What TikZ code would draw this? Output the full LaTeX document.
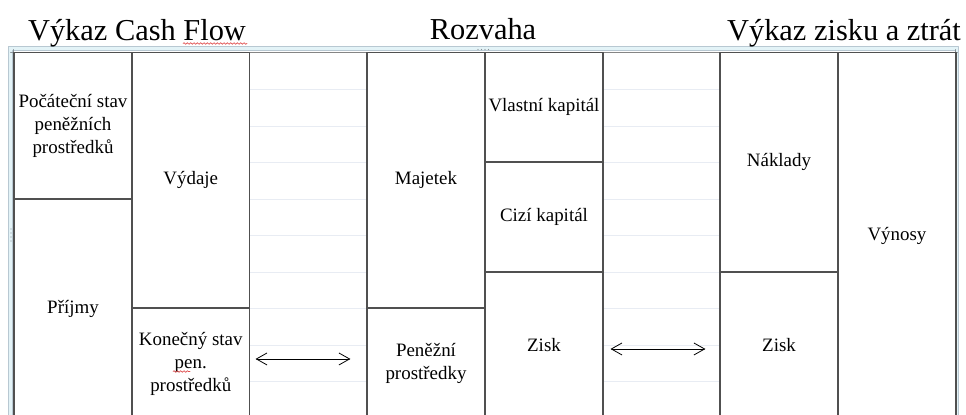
\documentclass[tikz,border=0pt]{standalone}
\usepackage{fontspec}
\setmainfont{Liberation Serif}
\usetikzlibrary{arrows.meta,decorations.pathmorphing}
\definecolor{gridgray}{HTML}{505050}
\definecolor{faintgray}{HTML}{E8ECF3}
\definecolor{framecyan}{HTML}{E3F3F7}
\definecolor{frameline}{HTML}{B8C8D2}
\definecolor{handlegray}{HTML}{8A9298}
\definecolor{spellred}{HTML}{E05050}
\begin{document}
\begin{tikzpicture}[x=0.75pt,y=-0.75pt,line cap=round,line join=round,
  cell/.style n args={2}{draw=gridgray,line width=0.9pt,inner sep=0pt,align=center,
    minimum width={#1*0.75pt},minimum height={#2*0.75pt},
    font=\fontsize{14.2}{17.3}\selectfont},
  title/.style={anchor=base,inner sep=0pt,font=\fontsize{22.8}{26}\selectfont},
  link/.style={{Straight Barb[length=8pt,width=9pt]}-{Straight Barb[length=8pt,width=9pt]},line width=0.6pt},
  spell/.style={spellred,line width=0.5pt,decorate,decoration={snake,amplitude=0.6pt,segment length=2.5pt}}]
  \useasboundingbox (0,0) rectangle (966,414);
  \clip (0,0) rectangle (966,414);
  % frame of the table
  \filldraw[fill=framecyan,draw=frameline,line width=0.6pt] (8.5,46.5) rectangle (958.5,430);
  \filldraw[fill=white,draw=frameline,line width=0.6pt] (12.5,50.5) rectangle (955,430);
  \foreach \x in {478,481.5,485,488.5} \fill[handlegray] (\x,49.5) circle (0.7);
  \foreach \y in {229,233,237,241} {
    \fill[handlegray] (11,\y) circle (0.7);
    \fill[handlegray] (956.5,\y) circle (0.7);
  }
  \draw[handlegray,line width=0.4pt] (10.5,52) -- (15.5,52) (13,49.5) -- (13,54.5);
  \draw[handlegray,line width=0.4pt] (952.5,52) -- (957.5,52) (955,49.5) -- (955,54.5);
  % faint gridlines in the empty columns
  \foreach \y in {89,126,162,199,235,272,308,345,381} {
    \draw[faintgray,line width=0.75pt] (249.5,\y) -- (367,\y);
    \draw[faintgray,line width=0.75pt] (603,\y) -- (720,\y);
  }
  \draw[gridgray!70,line width=0.9pt] (14,52.5) -- (956,52.5);
  % titles
  \node[title] (cf) at (137,40) {Výkaz Cash Flow};
  \node[title] (rozvaha) at (483,39.5) {Rozvaha};
  \node[title] (vzz) at (844,40) {Výkaz zisku a ztrát};
  % cash flow
  \node[cell={118}{146.5}] (pocatek) at (73,125.75) {Počáteční stav\\peněžních\\prostředků};
  \node[cell={118}{220}] (prijmy) at (73,309) {Příjmy};
  \node[cell={117.5}{255.5}] (vydaje) at (190.75,180.25) {Výdaje};
  \node[cell={117.5}{111}] (konec) at (190.75,363.5) {Konečný stav\\pen.\\prostředků};
  % rozvaha
  \node[cell={118}{255.5}] (majetek) at (426,180.25) {Majetek};
  \node[cell={118}{111}] (penize) at (426,363.5) {Peněžní\\prostředky};
  \node[cell={118}{109.5}] (vlastni) at (544,107.25) {Vlastní kapitál};
  \node[cell={118}{110}] (cizi) at (544,217) {Cizí kapitál};
  \node[cell={118}{147}] (ziskrozv) at (544,345.5) {Zisk};
  % vysledovka
  \node[cell={118}{219.5}] (naklady) at (779,162.25) {Náklady};
  \node[cell={118}{147}] (ziskvzz) at (779,345.5) {Zisk};
  \node[cell={118}{366.5}] (vynosy) at (897,235.75) {Výnosy};
  % links
  \draw[link] ([xshift=4.1pt,yshift=3.4pt]konec.east) -- ([xshift=-12pt,yshift=3.4pt]penize.west);
  \draw[link] ([xshift=5.2pt,yshift=-2.6pt]ziskrozv.east) -- ([xshift=-10.5pt,yshift=-2.6pt]ziskvzz.west);
  % spelling marks
  \draw[spell] (183,43.5) -- (247,43.5);
  \draw[spell] (173,371.5) -- (190,371.5);
\end{tikzpicture}
\end{document}
